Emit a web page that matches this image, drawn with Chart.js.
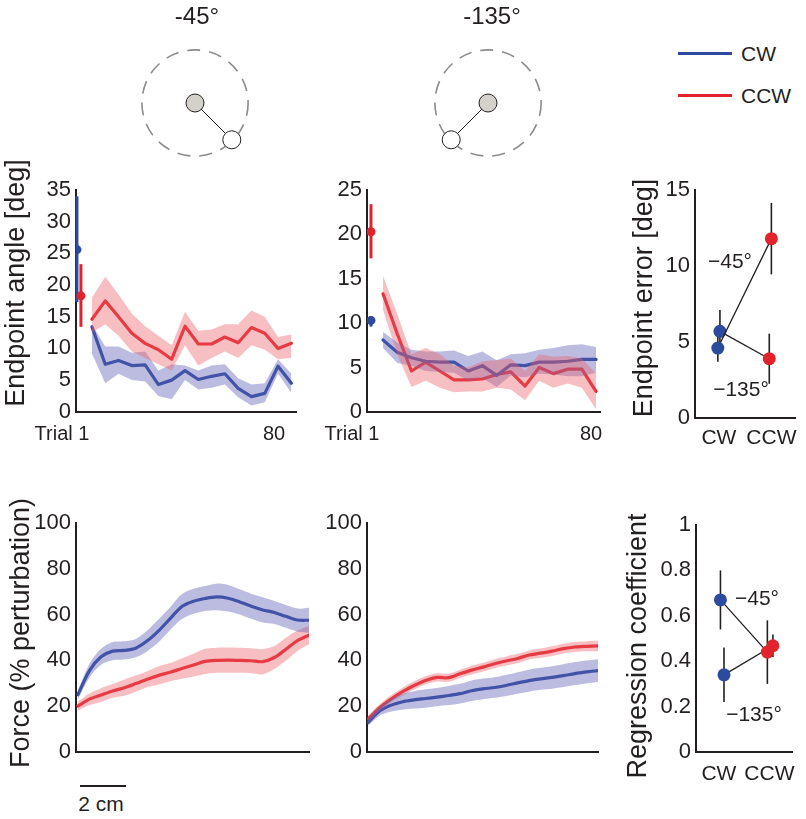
<!DOCTYPE html>
<html>
<head>
<meta charset="utf-8">
<script src="https://cdn.jsdelivr.net/npm/chart.js@4/dist/chart.umd.min.js"></script>
<style>
    body { margin: 0; background: #fff; width: 806px; height: 819px; position: relative; overflow: hidden;
           font-family: "Liberation Sans", Arial, sans-serif; color: #231f20; }
    .box { position: absolute; }
    .lbl { position: absolute; white-space: nowrap; transform: translate(-50%, -50%); line-height: 1; }
    .rot { transform: translate(-50%, -50%) rotate(-90deg); }
    .bar { position: absolute; background: #231f20; }
</style>
</head>
<body>
<script>
// ---- data ----
const trialBins = [1, 2, 3, 4, 5, 6, 7, 8, 9, 10, 11, 12, 13, 14, 15, 16];

// endpoint angle, -45 deg
const cwAngle45 = [13.4, 7.5, 8.1, 7.3, 7.4, 4.3, 5.0, 6.5, 5.1, 5.6, 6.0, 3.7, 2.4, 2.9, 7.2, 4.5];
const cwAngle45Hi = [13.8, 10.3, 10.3, 9.3, 9.5, 6.5, 7.5, 7.3, 6.5, 7.3, 7.5, 5.3, 4.3, 4.5, 8.3, 6.0];
const cwAngle45Lo = [9.2, 4.5, 6.0, 5.0, 4.8, 2.5, 2.0, 5.0, 3.5, 3.8, 4.3, 2.3, 1.0, 1.5, 6.0, 3.0];
const ccwAngle45 = [14.6, 17.5, 15.0, 12.4, 10.8, 9.8, 8.3, 13.5, 10.7, 10.7, 11.8, 10.9, 13.3, 12.4, 10.0, 10.8];
const ccwAngle45Hi = [18.0, 21.3, 18.5, 15.5, 13.5, 12.0, 10.5, 15.8, 12.8, 13.0, 13.8, 13.8, 16.0, 15.0, 11.8, 12.2];
const ccwAngle45Lo = [12.5, 13.8, 12.0, 9.5, 8.5, 7.5, 6.5, 10.5, 7.3, 8.5, 9.5, 8.5, 10.5, 9.8, 8.3, 8.5];
const firstTrial45 = { cw: [25.6, 17.3, 34.0], ccw: [18.3, 13.4, 23.3] }; // mean, lo, hi

// endpoint angle, -135 deg
const cwAngle135 = [8.1, 6.7, 6.1, 5.7, 5.6, 5.6, 4.6, 5.2, 4.1, 5.3, 5.2, 5.6, 5.6, 5.7, 5.9, 5.9];
const cwAngle135Hi = [9.0, 7.8, 7.0, 6.8, 6.8, 6.9, 6.3, 6.8, 5.8, 6.5, 6.6, 7.0, 7.2, 7.5, 7.6, 7.3];
const cwAngle135Lo = [7.2, 5.5, 5.2, 4.6, 4.5, 4.4, 3.5, 3.8, 2.8, 4.1, 3.9, 4.3, 4.2, 4.0, 4.0, 4.4];
const ccwAngle135 = [13.3, 8.8, 4.6, 5.6, 4.6, 3.6, 3.6, 3.7, 4.2, 4.5, 2.9, 5.0, 4.3, 4.8, 4.8, 2.3];
const ccwAngle135Hi = [15.3, 11.0, 6.5, 7.2, 6.5, 5.2, 5.0, 5.7, 5.8, 6.0, 4.6, 6.5, 6.2, 6.3, 6.0, 4.3];
const ccwAngle135Lo = [11.5, 6.5, 2.8, 3.5, 2.7, 2.2, 2.3, 2.3, 2.7, 2.5, 1.3, 3.5, 2.7, 3.2, 2.7, 0.3];
const firstTrial135 = { cw: [10.3, 9.6, 10.8], ccw: [20.3, 17.3, 23.4] };

// summary panels: index 0 = -45 deg, index 1 = -135 deg
const conditions = ['CW', 'CCW'];
const errorCW = [4.6, 5.7];
const errorCWSe = [0.9, 1.4];
const errorCCW = [11.8, 3.9];
const errorCCWSe = [2.35, 1.65];
const regCW = [0.67, 0.34];
const regCWSe = [0.13, 0.12];
const regCCW = [0.44, 0.468];
const regCCWSe = [0.14, 0.05];

// force profiles along the movement
const forceSteps = [0, 1, 2, 3, 4, 5, 6, 7, 8, 9, 10, 11, 12, 13, 14, 15, 16, 17, 18, 19, 20];
const forceCW45 = [25, 35.5, 41.5, 44, 44.3, 45.3, 48.5, 53, 58.3, 63.5, 65.8, 67, 67.7, 67.1, 65.5, 63.6, 62, 60.9, 59.2, 57.6, 57.5];
const forceCW45Se = [2, 3, 3.5, 4, 4, 4, 4.5, 5, 5, 5.5, 5.5, 5.5, 5.8, 5.8, 5.5, 5.5, 5.5, 5, 5, 5, 5.5];
const forceCCW45 = [20, 23, 24.8, 26.6, 28, 29.8, 31.7, 33.4, 34.8, 36.4, 37.9, 39.5, 40, 40.1, 40, 39.8, 39.4, 41.2, 44.8, 48.6, 51];
const forceCCW45Se = [2, 2.5, 3, 3, 3.5, 3.5, 3.5, 4, 4, 4.5, 5, 5.5, 5.5, 5.5, 5.5, 5.5, 5.5, 5, 5, 4.5, 4];
const forceCW135 = [12.9, 17.8, 20.4, 21.9, 22.7, 23.3, 23.9, 24.6, 25.4, 26.7, 27.5, 28.1, 29, 30.1, 31.1, 31.9, 32.5, 33.3, 34.2, 34.9, 35.5];
const forceCW135Se = [1.5, 2, 2.8, 3.5, 3.8, 4, 4, 4.2, 4.3, 4.5, 4.5, 4.5, 4.6, 4.7, 4.8, 4.8, 4.9, 5, 5, 5, 5];
const forceCCW135 = [14.4, 19.3, 23.1, 26.3, 29, 31.2, 32.5, 32.4, 34.1, 35.7, 37, 38.5, 39.7, 40.8, 42.3, 43.1, 44, 45.1, 45.8, 46.1, 46.3];
const forceCCW135Se = [1.5, 1.5, 1.6, 1.7, 1.8, 1.8, 1.8, 1.8, 1.8, 1.9, 1.9, 2, 2, 2, 2, 2, 2.1, 2.1, 2.2, 2.2, 2.3];

const armTargets = [-45, -135];

// ---- styles ----
const FONT = '"Liberation Sans", Arial, sans-serif';
const INK = '#231f20';
const BLUE = '#2c4a9e';
const RED = '#e2232b';
const BLUE_BAND = 'rgba(95, 95, 180, 0.42)';
const RED_BAND = 'rgba(238, 95, 105, 0.4)';
const TICK_SIZE = 22;

Chart.defaults.font.family = FONT;
Chart.defaults.color = INK;
Chart.defaults.animation = false;
Chart.defaults.plugins.legend.display = false;
Chart.defaults.plugins.tooltip.enabled = false;

const errorBarPlugin = {
    id: 'errorBars',
    beforeDatasetsDraw(chart) {
        const { ctx } = chart;
        const y = chart.scales.y;
        chart.data.datasets.forEach((ds, i) => {
            if (!ds.errorBars) {
                return;
            }
            const meta = chart.getDatasetMeta(i);
            ctx.save();
            ctx.strokeStyle = ds.errorColor || INK;
            ctx.lineWidth = ds.errorWidth || 1.5;
            meta.data.forEach((pt, j) => {
                const [lo, hi] = ds.errorBars[j];
                ctx.beginPath();
                ctx.moveTo(pt.x, y.getPixelForValue(lo));
                ctx.lineTo(pt.x, y.getPixelForValue(hi));
                ctx.stroke();
            });
            ctx.restore();
        });
    },
};

const dashedCirclePlugin = {
    id: 'dashedCircle',
    beforeDatasetsDraw(chart) {
        const { ctx, scales } = chart;
        const cx = scales.x.getPixelForValue(0);
        const cy = scales.y.getPixelForValue(0);
        const r = scales.x.getPixelForValue(1) - cx;
        ctx.save();
        ctx.strokeStyle = '#8c8c8c';
        ctx.lineWidth = 1.6;
        ctx.setLineDash([13, 9]);
        ctx.beginPath();
        ctx.arc(cx, cy, r, 0, Math.PI * 2);
        ctx.stroke();
        ctx.restore();
    },
};

// ---- helpers ----
const makeCanvas = (left, top, w, h) => {
    const box = document.createElement('div');
    box.className = 'box';
    box.style.cssText = `left:${left}px;top:${top}px;width:${w}px;height:${h}px`;
    const canvas = document.createElement('canvas');
    canvas.width = w;
    canvas.height = h;
    box.appendChild(canvas);
    document.body.appendChild(box);
    return canvas;
};

const addLabel = (text, x, y, size, rotated = false) => {
    const el = document.createElement('div');
    el.className = rotated ? 'lbl rot' : 'lbl';
    el.style.left = `${x}px`;
    el.style.top = `${y}px`;
    el.style.fontSize = `${size}px`;
    el.textContent = text;
    document.body.appendChild(el);
};

const pts = (xs, ys) => ys.map((v, i) => ({ x: xs[i], y: v }));

const bandPair = (xs, hi, lo, color, tension) => [
    { data: pts(xs, hi), fill: '+1', backgroundColor: color, borderWidth: 0, pointRadius: 0, tension },
    { data: pts(xs, lo), fill: false, borderWidth: 0, pointRadius: 0, tension },
];

const meanLine = (xs, ys, color, tension) => ({
    data: pts(xs, ys), borderColor: color, borderWidth: 3.2, pointRadius: 0, fill: false, tension,
});

const firstTrial = (x, vals, color) => ({
    data: [{ x, y: vals[0] }],
    showLine: false,
    pointRadius: 4.5,
    pointBackgroundColor: color,
    pointBorderWidth: 0,
    errorBars: [[vals[1], vals[2]]],
    errorColor: color,
    errorWidth: 3,
});

const yAxis = (width, max, step) => ({
    type: 'linear',
    min: 0,
    max,
    afterFit: (s) => { s.width = width; },
    grid: { display: false, drawTicks: false },
    border: { display: true, color: INK, width: 2 },
    ticks: {
        stepSize: step,
        padding: 5,
        font: { size: TICK_SIZE },
        color: INK,
        callback: (v) => String(+v.toFixed(2)),
    },
});

const xAxis = (height, min, max, showBorder = true) => ({
    type: 'linear',
    min,
    max,
    afterFit: (s) => { s.height = height; },
    grid: { display: false, drawTicks: false },
    border: { display: showBorder, color: INK, width: 2 },
    ticks: { display: false },
});

const baseOptions = (padTop, padRight, scales) => ({
    responsive: false,
    animation: false,
    layout: { padding: { top: padTop, right: padRight, left: 0, bottom: 0 } },
    elements: { line: { borderCapStyle: 'round', borderJoinStyle: 'round' } },
    scales,
});

// ---- endpoint angle panels ----
const angleChart = (canvas, s, padRight, axisX) => new Chart(canvas, {
    type: 'line',
    data: {
        datasets: [
            ...bandPair(trialBins, s.ccwHi, s.ccwLo, RED_BAND, 0),
            ...bandPair(trialBins, s.cwHi, s.cwLo, BLUE_BAND, 0),
            meanLine(trialBins, s.cw, BLUE, 0),
            meanLine(trialBins, s.ccw, RED, 0),
            firstTrial(s.cwX, s.first.cw, BLUE),
            firstTrial(s.ccwX, s.first.ccw, RED),
        ],
    },
    options: baseOptions(20, padRight, {
        x: xAxis(axisX.h, axisX.min, axisX.max, axisX.border),
        y: yAxis(axisX.yw, s.max, 5),
    }),
    plugins: [errorBarPlugin],
});

angleChart(makeCanvas(0, 170, 310, 260), {
    cw: cwAngle45, cwHi: cwAngle45Hi, cwLo: cwAngle45Lo,
    ccw: ccwAngle45, ccwHi: ccwAngle45Hi, ccwLo: ccwAngle45Lo,
    first: firstTrial45, cwX: -0.13, ccwX: 0.17, max: 35,
}, 14, { h: 12, min: -0.2, max: 16.35, yw: 76, border: true });

angleChart(makeCanvas(300, 170, 310, 260), {
    cw: cwAngle135, cwHi: cwAngle135Hi, cwLo: cwAngle135Lo,
    ccw: ccwAngle135, ccwHi: ccwAngle135Hi, ccwLo: ccwAngle135Lo,
    first: firstTrial135, cwX: 0.15, ccwX: 0.15, max: 25,
}, 10, { h: 13, min: -0.13, max: 16.28, yw: 67, border: true });

// ---- force panels ----
const forceChart = (canvas, cw, cwSe, ccw, ccwSe, yw, xh, padRight, xmin) => new Chart(canvas, {
    type: 'line',
    data: {
        datasets: [
            ...bandPair(forceSteps, cw.map((v, i) => v + cwSe[i]), cw.map((v, i) => v - cwSe[i]), BLUE_BAND, 0.3),
            ...bandPair(forceSteps, ccw.map((v, i) => v + ccwSe[i]), ccw.map((v, i) => v - ccwSe[i]), RED_BAND, 0.3),
            meanLine(forceSteps, cw, BLUE, 0.3),
            meanLine(forceSteps, ccw, RED, 0.3),
        ],
    },
    options: baseOptions(23, padRight, {
        x: xAxis(xh, xmin, 20),
        y: yAxis(yw, 100, 20),
    }),
});

forceChart(makeCanvas(0, 500, 320, 270), forceCW45, forceCW45Se, forceCCW45, forceCCW45Se, 76, 13, 11, -0.17);
forceChart(makeCanvas(300, 500, 310, 270), forceCW135, forceCW135Se, forceCCW135, forceCCW135Se, 67, 15, 12, -0.1);

// ---- summary panels (CW vs CCW) ----
const summaryChart = (canvas, cwVals, cwSe, ccwVals, ccwSe, xs, yMax, yStep, padTop, xh, yw, labelPad) => new Chart(canvas, {
    type: 'line',
    data: {
        datasets: [0, 1].map((k) => ({
            data: [{ x: xs[k][0], y: cwVals[k] }, { x: xs[k][1], y: ccwVals[k] }],
            borderColor: INK,
            borderWidth: 1.3,
            pointRadius: 6.5,
            pointBackgroundColor: [BLUE, RED],
            pointBorderWidth: 0,
            errorBars: [[cwVals[k] - cwSe[k], cwVals[k] + cwSe[k]], [ccwVals[k] - ccwSe[k], ccwVals[k] + ccwSe[k]]],
            errorColor: INK,
            errorWidth: 1.6,
            clip: false,
        })),
    },
    options: baseOptions(padTop, 6, {
        x: {
            type: 'linear',
            min: 0.545,
            max: 2.455,
            afterFit: (s) => { s.height = xh; },
            afterBuildTicks: (s) => { s.ticks = [{ value: 1 }, { value: 2 }]; },
            grid: { display: false, drawTicks: false },
            border: { display: true, color: INK, width: 2 },
            ticks: { padding: labelPad, font: { size: 21 }, color: INK, maxRotation: 0, callback: (v) => conditions[v - 1] },
        },
        y: yAxis(yw, yMax, yStep),
    }),
    plugins: [errorBarPlugin],
});

summaryChart(makeCanvas(620, 170, 186, 290), errorCW, errorCWSe, errorCCW, errorCCWSe,
    [[0.98, 2.0], [1.02, 1.96]], 15, 5, 20, 42, 75, 8);
summaryChart(makeCanvas(620, 500, 186, 300), regCW, regCWSe, regCCW, regCCWSe,
    [[1.03, 1.96], [1.1, 2.07]], 1, 0.2, 25, 48, 76, 10);

// ---- arm schematics ----
const armChart = (canvas, angle) => {
    const rad = angle * Math.PI / 180;
    return new Chart(canvas, {
        type: 'scatter',
        data: {
            datasets: [{
                data: [{ x: 0, y: 0 }, { x: 0.98 * Math.cos(rad), y: 0.98 * Math.sin(rad) }],
                showLine: true,
                borderColor: INK,
                borderWidth: 1,
                pointRadius: 9,
                pointBackgroundColor: ['#d4d1cb', '#ffffff'],
                pointBorderColor: INK,
                pointBorderWidth: 1,
                clip: false,
            }],
        },
        options: {
            responsive: false,
            animation: false,
            layout: { padding: 0 },
            scales: {
                x: { display: false, min: -1.13, max: 1.13 },
                y: { display: false, min: -1.13, max: 1.13 },
            },
        },
        plugins: [dashedCirclePlugin],
    });
};

armChart(makeCanvas(125, 33, 140, 140), armTargets[0]);
armChart(makeCanvas(418, 33, 140, 140), armTargets[1]);

// ---- text ----
addLabel('-45°', 197, 16, 24);
addLabel('-135°', 492, 16, 24);

addLabel('Endpoint angle [deg]', 15, 283, 27, true);
addLabel('Force (% perturbation)', 20, 633, 27, true);
addLabel('Endpoint error [deg]', 643, 298, 27, true);
addLabel('Regression coefficient', 637, 646, 27, true);

addLabel('Trial 1', 62, 433, 20);
addLabel('80', 274, 433, 20);
addLabel('Trial 1', 352, 433, 20);
addLabel('80', 591, 433, 20);

addLabel('−45°', 730, 260, 21);
addLabel('−135°', 741, 388, 21);
addLabel('−45°', 757, 597, 21);
addLabel('−135°', 754, 713, 21);

// legend
const legendItems = [['CW', BLUE, 53], ['CCW', RED, 95]];
legendItems.forEach(([name, color, y]) => {
    const line = document.createElement('div');
    line.className = 'bar';
    line.style.cssText = `left:678px;top:${y - 1.5}px;width:54px;height:3px;background:${color}`;
    document.body.appendChild(line);
    const t = document.createElement('div');
    t.className = 'lbl';
    t.style.cssText = `left:741px;top:${y}px;font-size:21px;transform:translate(0,-50%)`;
    t.textContent = name;
    document.body.appendChild(t);
});

// scale bar
const scaleBar = document.createElement('div');
scaleBar.className = 'bar';
scaleBar.style.cssText = 'left:80px;top:785px;width:46px;height:2px';
document.body.appendChild(scaleBar);
addLabel('2 cm', 101, 803, 21);
</script>
</body>
</html>
